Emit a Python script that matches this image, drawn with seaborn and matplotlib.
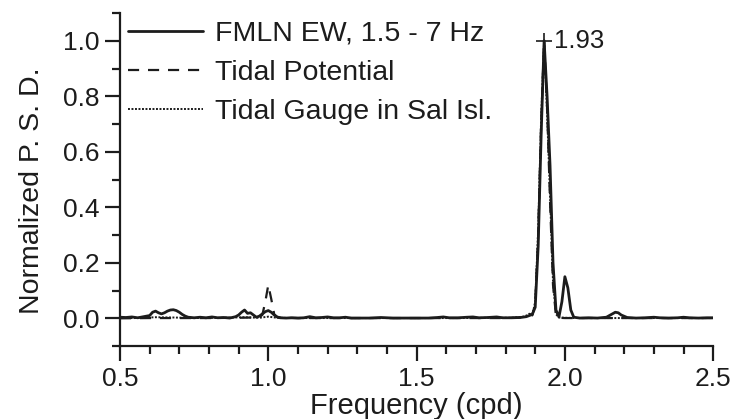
import numpy as np
import pandas as pd
import matplotlib
matplotlib.use("Agg")
import matplotlib.pyplot as plt
from matplotlib.ticker import MultipleLocator
import seaborn as sns

# ---- data ----
freq_ew = [0.50, 0.52, 0.54, 0.56, 0.58, 0.60, 0.61, 0.62, 0.63, 0.64,
           0.65, 0.66, 0.67, 0.68, 0.69, 0.70, 0.71, 0.72, 0.73, 0.74,
           0.75, 0.77, 0.79, 0.81, 0.83, 0.85, 0.87, 0.89, 0.90, 0.91,
           0.92, 0.93, 0.94, 0.95, 0.96, 0.97, 0.98, 0.99, 1.00, 1.01,
           1.02, 1.03, 1.04, 1.06, 1.08, 1.10, 1.12, 1.14, 1.16, 1.18,
           1.20, 1.22, 1.24, 1.26, 1.28, 1.30, 1.34, 1.38, 1.42, 1.46,
           1.50, 1.54, 1.57, 1.59, 1.61, 1.64, 1.67, 1.69, 1.71, 1.74,
           1.77, 1.79, 1.82, 1.85, 1.87, 1.88, 1.89, 1.90, 1.91, 1.92,
           1.93, 1.94, 1.95, 1.96, 1.97, 1.98, 1.99, 2.00, 2.01, 2.02,
           2.03, 2.05, 2.08, 2.11, 2.14, 2.16, 2.17, 2.18, 2.19, 2.21,
           2.24, 2.27, 2.30, 2.32, 2.35, 2.38, 2.40, 2.42, 2.45, 2.48,
           2.50]
psd_ew = [0.004, 0.003, 0.005, 0.002, 0.006, 0.010, 0.022, 0.026, 0.020, 0.016,
          0.020, 0.026, 0.030, 0.031, 0.028, 0.022, 0.014, 0.008, 0.004, 0.003,
          0.002, 0.004, 0.002, 0.005, 0.002, 0.003, 0.001, 0.006, 0.012, 0.022,
          0.030, 0.018, 0.020, 0.012, 0.004, 0.008, 0.016, 0.024, 0.028, 0.022,
          0.012, 0.005, 0.002, 0.001, 0.002, 0.001, 0.002, 0.006, 0.002, 0.003,
          0.005, 0.002, 0.002, 0.004, 0.001, 0.001, 0.001, 0.003, 0.001, 0.001,
          0.001, 0.001, 0.003, 0.005, 0.002, 0.002, 0.004, 0.005, 0.002, 0.003,
          0.005, 0.002, 0.002, 0.003, 0.006, 0.010, 0.014, 0.040, 0.260, 0.660,
          1.000, 0.800, 0.550, 0.200, 0.030, 0.005, 0.060, 0.150, 0.110, 0.030,
          0.004, 0.001, 0.002, 0.001, 0.004, 0.016, 0.022, 0.020, 0.012, 0.003,
          0.001, 0.002, 0.004, 0.002, 0.001, 0.002, 0.004, 0.002, 0.001, 0.002,
          0.002]

freq_tp = [0.50, 0.60, 0.70, 0.80, 0.90, 0.95, 0.97, 0.98, 0.99, 1.00,
           1.01, 1.02, 1.03, 1.05, 1.10, 1.20, 1.40, 1.60, 1.80, 1.85,
           1.87, 1.88, 1.89, 1.90, 1.91, 1.92, 1.93, 1.94, 1.95, 1.96,
           1.97, 1.98, 2.00, 2.10, 2.30, 2.50]
psd_tp = [0.000, 0.001, 0.001, 0.001, 0.002, 0.003, 0.005, 0.012, 0.060, 0.120,
          0.070, 0.015, 0.004, 0.002, 0.001, 0.001, 0.001, 0.001, 0.001, 0.003,
          0.008, 0.016, 0.012, 0.050, 0.300, 0.700, 1.000, 0.760, 0.420, 0.120,
          0.010, 0.002, 0.001, 0.001, 0.001, 0.001]

freq_tg = [0.50, 0.55, 0.62, 0.68, 0.75, 0.85, 0.92, 0.97, 1.00, 1.03,
           1.10, 1.20, 1.35, 1.50, 1.65, 1.75, 1.82, 1.86, 1.88, 1.89,
           1.90, 1.91, 1.92, 1.93, 1.94, 1.95, 1.96, 1.97, 1.98, 2.00,
           2.05, 2.20, 2.35, 2.50]
psd_tg = [0.002, 0.001, 0.004, 0.003, 0.001, 0.002, 0.004, 0.002, 0.006, 0.002,
          0.001, 0.001, 0.001, 0.001, 0.001, 0.002, 0.002, 0.006, 0.014, 0.010,
          0.060, 0.320, 0.720, 1.000, 0.740, 0.440, 0.130, 0.015, 0.003, 0.002,
          0.001, 0.001, 0.001, 0.001]

labels = ["FMLN EW, 1.5 - 7 Hz", "Tidal Potential", "Tidal Gauge in Sal Isl."]
peak_freq = 1.93
peak_label = "1.93"
x_ticks = [0.5, 1.0, 1.5, 2.0, 2.5]
y_ticks = [0.0, 0.2, 0.4, 0.6, 0.8, 1.0]

# ---- style ----
sns.set_theme(style="ticks")
plt.rcParams["font.family"] = ["Liberation Sans", "DejaVu Sans"]
ink = "#1c1c1c"

fig = plt.figure(figsize=(7.36, 4.19), dpi=100)
ax = fig.add_axes([0.163, 0.174, 0.806, 0.795])

df_ew = pd.DataFrame({"f": freq_ew, "p": psd_ew})
df_tp = pd.DataFrame({"f": freq_tp, "p": psd_tp})
df_tg = pd.DataFrame({"f": freq_tg, "p": psd_tg})

sns.lineplot(data=df_ew, x="f", y="p", ax=ax, color=ink, lw=2.0,
             label=labels[0], sort=False)
sns.lineplot(data=df_tp, x="f", y="p", ax=ax, color=ink, lw=1.6,
             label=labels[1], sort=False, linestyle=(0, (5, 4)))
sns.lineplot(data=df_tg, x="f", y="p", ax=ax, color=ink, lw=1.4,
             label=labels[2], sort=False, linestyle=(0, (1, 0.8)))

# peak marker and label
ax.plot([peak_freq], [max(psd_ew)], marker="+", ms=11, mew=1.2, color=ink)
ax.text(peak_freq + 0.035, max(psd_ew), peak_label, fontsize=18.5,
        color=ink, va="center", ha="left")

ax.set_xlim(0.5, 2.5)
ax.set_ylim(-0.1, 1.1)
ax.set_xticks(x_ticks)
ax.set_xticklabels([f"{v:.1f}" for v in x_ticks])
ax.set_yticks(y_ticks)
ax.set_yticklabels([f"{v:.1f}" for v in y_ticks])
ax.xaxis.set_minor_locator(MultipleLocator(0.1))
ax.yaxis.set_minor_locator(MultipleLocator(0.1))

for s in ["top", "right"]:
    ax.spines[s].set_visible(False)
for s in ["left", "bottom"]:
    ax.spines[s].set_linewidth(1.6)
    ax.spines[s].set_color(ink)

ax.tick_params(which="major", direction="out", length=11, width=1.6,
               color=ink, labelsize=19, labelcolor=ink, pad=4)
ax.tick_params(which="minor", direction="out", length=6, width=1.6, color=ink)

ax.set_xlabel("Frequency (cpd)", fontsize=21, color=ink, labelpad=1)
ax.set_ylabel("Normalized P. S. D.", fontsize=20.5, color=ink)
ax.yaxis.set_label_coords(-0.126, 0.468)

leg = ax.legend(loc="upper left", bbox_to_anchor=(0.0, 1.0), frameon=False,
                fontsize=20.5, handlelength=2.63, handletextpad=0.42,
                labelspacing=0.45, borderaxespad=0.1, borderpad=0.18)
for t in leg.get_texts():
    t.set_color(ink)

fig.savefig("out.png", dpi=100)
